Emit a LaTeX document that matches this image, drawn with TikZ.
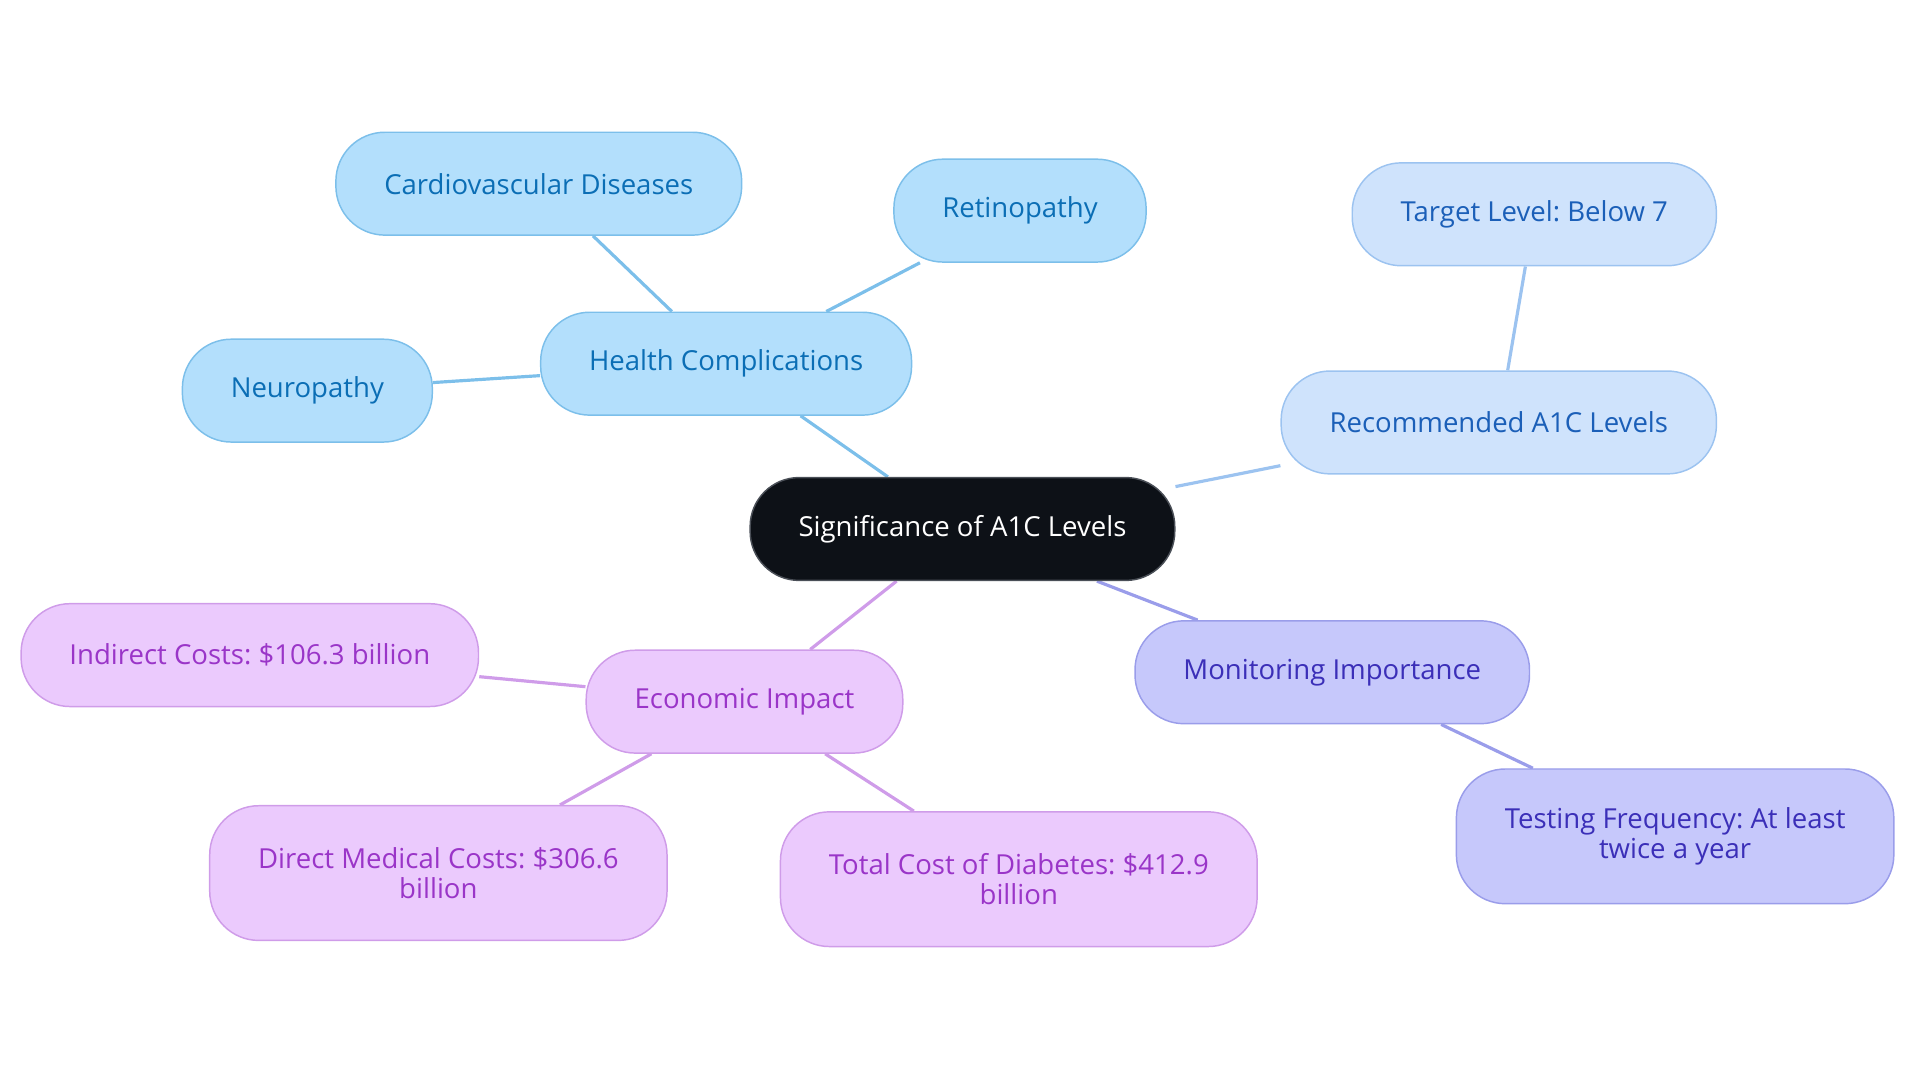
\documentclass[tikz,border=0pt]{standalone}
\usepackage{fontspec}
\setmainfont{Open Sans}
\frenchspacing
\usetikzlibrary{backgrounds}
\definecolor{hubfill}{HTML}{0D1117}
\definecolor{hubline}{HTML}{4A4F57}
\definecolor{skyfill}{HTML}{B3DFFC}
\definecolor{skyline}{HTML}{7CBFEA}
\definecolor{skytext}{HTML}{0B6EB5}
\definecolor{palefill}{HTML}{CFE3FC}
\definecolor{paleline}{HTML}{9CC3F0}
\definecolor{paletext}{HTML}{1B5FB8}
\definecolor{lavfill}{HTML}{C6C8FB}
\definecolor{lavline}{HTML}{9A9DEA}
\definecolor{lavtext}{HTML}{3B2FB8}
\definecolor{lilfill}{HTML}{EBCAFD}
\definecolor{lilline}{HTML}{CF9CE9}
\definecolor{liltext}{HTML}{9A35C8}
\tikzset{
	bubble/.style={draw, line width=1.2pt, rounded corners=40pt, minimum height=84pt,
		inner xsep=39.5pt, align=center, font=\fontsize{22.5}{25}\selectfont},
	hub/.style={bubble, fill=hubfill, draw=hubline, text=white},
	sky/.style={bubble, fill=skyfill, draw=skyline, text=skytext},
	pale/.style={bubble, fill=palefill, draw=paleline, text=paletext},
	lav/.style={bubble, fill=lavfill, draw=lavline, text=lavtext},
	lil/.style={bubble, fill=lilfill, draw=lilline, text=liltext},
	twig/.style={line width=2.6pt}
}
\begin{document}
\begin{tikzpicture}[x=1pt, y=-1pt]
	\useasboundingbox (0,0) rectangle (1568,884);
	\path
		(786,432) node[hub] (sig) {Significance of A1C Levels}
		(593,297) node[sky] (health) {Health Complications}
		(440,150) node[sky] (cardio) {Cardiovascular Diseases}
		(833,172) node[sky] (retino) {Retinopathy}
		(251,319) node[sky] (neuro) {Neuropathy}
		(1224,345) node[pale] (recom) {Recommended A1C Levels}
		(1253,175) node[pale] (target) {Target Level: Below 7}
		(1088,549) node[lav] (monit) {Monitoring Importance}
		(1368,683) node[lav, minimum height=110pt] (testing) {Testing Frequency: At least\\twice a year}
		(608,573) node[lil] (econ) {Economic Impact}
		(204,535) node[lil] (indirect) {Indirect Costs: \$106.3 billion}
		(358,713) node[lil, minimum height=110pt] (direct) {Direct Medical Costs: \$306.6\\billion}
		(832,718) node[lil, minimum height=110pt] (total) {Total Cost of Diabetes: \$412.9\\billion}
	;

	\begin{scope}[on background layer]
	\draw[twig, skyline]
		(sig) -- (health)
		(health) -- (cardio)
		(health) -- (retino)
		(health) -- (neuro)
	;
	\draw[twig, paleline]
		(sig) -- (recom)
		(recom) -- (target)
	;
	\draw[twig, lavline]
		(sig) -- (monit)
		(monit) -- (testing)
	;
	\draw[twig, lilline]
		(sig) -- (econ)
		(econ) -- (indirect)
		(econ) -- (direct)
		(econ) -- (total)
	;
	\end{scope}
\end{tikzpicture}
\end{document}
